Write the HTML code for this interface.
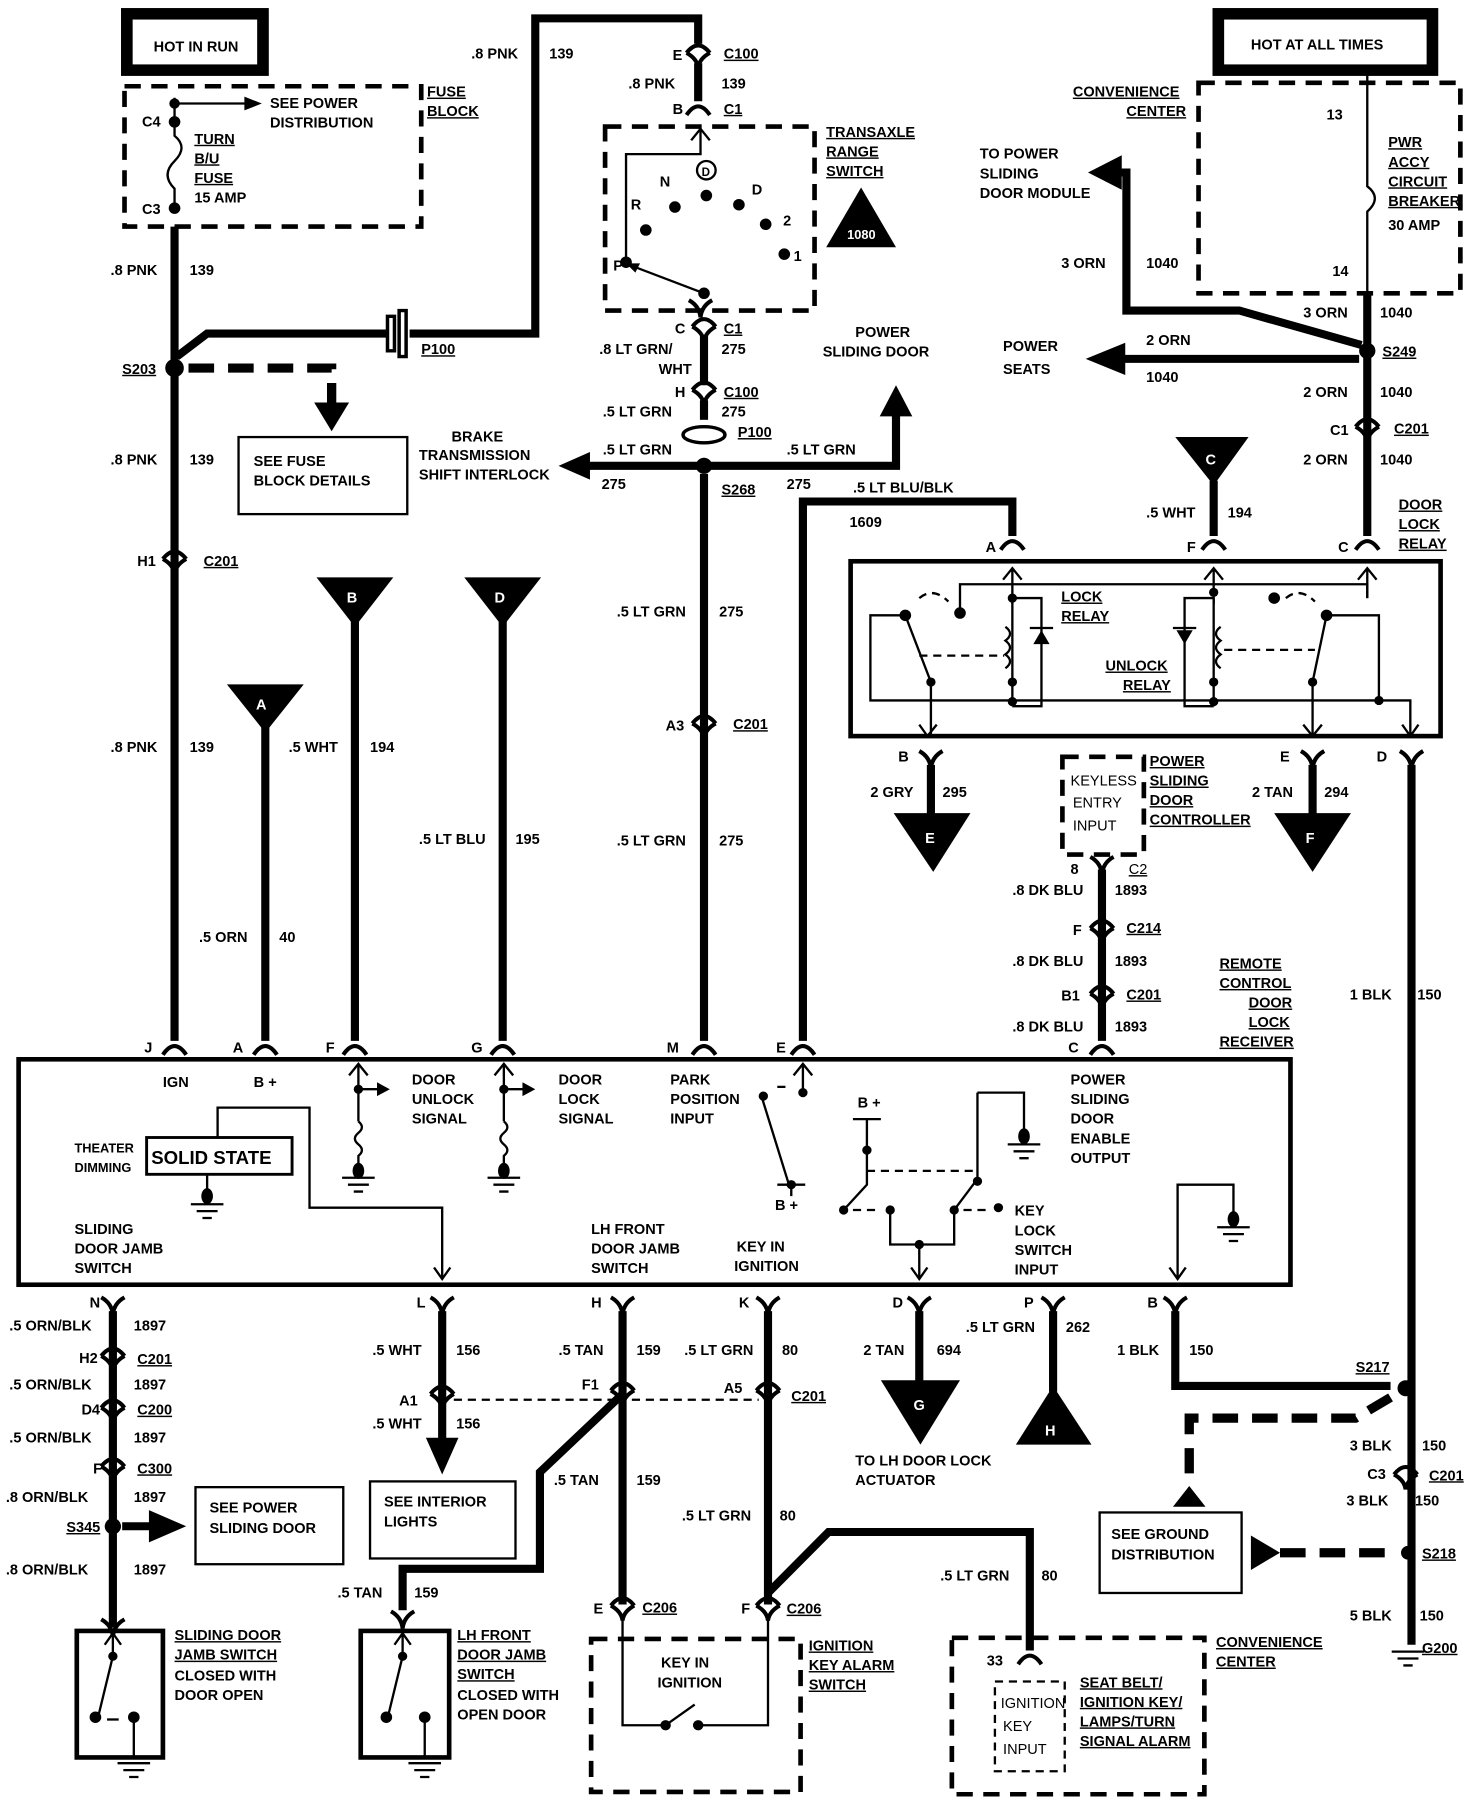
<!DOCTYPE html>
<html><head><meta charset="utf-8"><style>
html,body{margin:0;padding:0;background:#fff}
svg{display:block}
text{font-family:"Liberation Sans",sans-serif;font-weight:bold;font-size:12.5px;fill:#000}
.u{text-decoration:underline}
.w{stroke:#000;stroke-width:7;fill:none}
.n{stroke:#000;stroke-width:2;fill:none}
.d{stroke:#000;stroke-width:4;fill:none;stroke-dasharray:14 9}
.dt{stroke:#000;stroke-width:2;fill:none;stroke-dasharray:7 5}
.dw{stroke:#000;stroke-width:8;fill:none;stroke-dasharray:22 12}
.c{stroke:#000;stroke-width:3.5;fill:none}
</style></head><body>
<svg width="1472" height="1800" viewBox="0 0 1265 1565" preserveAspectRatio="none" xmlns="http://www.w3.org/2000/svg">
<defs>
<g id="ar"><path class="c" d="M-10,5 Q0,-10 10,5"/></g>
<g id="fk"><path class="c" d="M-10,-7 Q-1,-2 0,8 M10,-7 Q1,-2 0,8"/></g>
<g id="ci"><path class="c" d="M-10,-1 Q0,-14 10,-1 M-10,-1 Q-1,4 0,12 M10,-1 Q1,4 0,12"/></g>
<g id="gnd"><path class="n" d="M-14,0 H14 M-9,6 H9 M-4,12 H4" stroke-width="2.5"/></g>
</defs>

<!-- HOT IN RUN -->
<rect x="109" y="12" width="117" height="49" fill="none" stroke="#000" stroke-width="10"/>
<text x="132" y="45">HOT IN RUN</text>
<rect x="107" y="75" width="255" height="122" class="d"/>
<text x="367" y="84" class="u">FUSE</text><text x="367" y="101" class="u">BLOCK</text>
<path class="n" d="M150,85 V105 M150,105 V118 Q162,128 150,140 Q138,152 150,164 V182" stroke-width="2.5"/>
<circle cx="150" cy="90" r="4.5"/><circle cx="150" cy="106" r="5"/><circle cx="150" cy="181" r="5"/>
<path class="n" d="M150,90 H212"/><path d="M210,84 L225,90 L210,96Z"/>
<text x="232" y="94">SEE  POWER</text><text x="232" y="111">DISTRIBUTION</text>
<text x="122" y="110">C4</text><text x="122" y="186">C3</text>
<text x="167" y="125" class="u">TURN</text><text x="167" y="142" class="u">B/U</text><text x="167" y="159" class="u">FUSE</text><text x="167" y="176">15 AMP</text>

<!-- left pink wire -->
<path class="w" d="M150,197 V905"/>
<text x="95" y="239">.8 PNK</text><text x="163" y="239">139</text>
<circle cx="150" cy="320" r="8"/>
<text x="105" y="325" class="u">S203</text>
<path class="w" d="M152,310 L178,290 H333"/>
<path class="w" d="M352,290 H460 V16 H600 V38"/>
<path d="M333,275 h6 v30 h-6z M343,270 h6 v40 h-6z" fill="none" stroke="#000" stroke-width="3"/>
<text x="362" y="308" class="u">P100</text>
<text x="405" y="51">.8 PNK</text><text x="472" y="51">139</text>
<path class="dw" d="M162,320 H285 V350"/><path d="M270,350 L300,350 L285,375Z"/>
<rect x="205" y="380" width="145" height="67" class="n"/>
<text x="218" y="405">SEE FUSE</text><text x="218" y="422">BLOCK DETAILS</text>
<text x="95" y="404">.8 PNK</text><text x="163" y="404">139</text>
<use href="#ci" x="150" y="487"/><text x="118" y="492">H1</text><text x="175" y="492" class="u">C201</text>
<text x="95" y="654">.8 PNK</text><text x="163" y="654">139</text>

<!-- A -->
<path d="M195,595 H261 L228,637Z"/><text x="220" y="617" fill="#fff" style="fill:#fff">A</text>
<path class="w" d="M228,630 V905"/>
<text x="248" y="654">.5 WHT</text><text x="318" y="654">194</text>
<text x="171" y="819">.5 ORN</text><text x="240" y="819">40</text>
<!-- B -->
<path d="M272,502 H338 L305,545Z"/><text x="298" y="524" style="fill:#fff">B</text>
<path class="w" d="M305,540 V905"/>
<!-- D -->
<path d="M399,502 H465 L432,545Z"/><text x="425" y="524" style="fill:#fff">D</text>
<path class="w" d="M432,540 V905"/>
<text x="360" y="734">.5 LT BLU</text><text x="443" y="734">195</text>

<!-- center 605 -->
<use href="#ci" x="600" y="47"/><text x="578" y="52">E</text><text x="622" y="51" class="u">C100</text>
<path class="w" d="M600,55 V88"/>
<text x="540" y="77">.8  PNK</text><text x="620" y="77">139</text>
<use href="#ar" x="600" y="95"/><text x="578" y="99">B</text><text x="622" y="99" class="u">C1</text>
<rect x="520" y="110" width="180" height="160" class="d"/>
<text x="710" y="119" class="u">TRANSAXLE</text><text x="710" y="136" class="u">RANGE</text><text x="710" y="153" class="u">SWITCH</text>
<path d="M740,163 L710,215 H770Z"/><text x="728" y="208" style="fill:#fff;font-size:11px">1080</text>
<path class="n" d="M538,228 V134 H602 V112 M594,122 L602,112 L610,122"/>
<circle cx="538" cy="228" r="5"/><circle cx="555" cy="200" r="5"/><circle cx="580" cy="180" r="5"/><circle cx="607" cy="170" r="5"/><circle cx="635" cy="178" r="5"/><circle cx="658" cy="195" r="5"/><circle cx="674" cy="221" r="5"/>
<circle cx="607" cy="148" r="8" class="n"/><text x="603" y="153" style="font-size:10px">D</text>
<text x="527" y="235">P</text><text x="542" y="182">R</text><text x="567" y="162">N</text><text x="646" y="169">D</text><text x="673" y="196">2</text><text x="682" y="227">1</text>
<path class="n" d="M540,230 L605,255"/><path d="M538,229 l12,0 l-4,8z"/><circle cx="605" cy="255" r="5"/>
<use href="#fk" x="602" y="268"/>
<use href="#ci" x="605" y="285"/><text x="580" y="290">C</text><text x="622" y="290" class="u">C1</text>
<path class="w" d="M605,292 V335"/>
<text x="515" y="308">.8  LT GRN/</text><text x="566" y="325">WHT</text><text x="620" y="308">275</text>
<use href="#ci" x="605" y="340"/><text x="580" y="345">H</text><text x="622" y="345" class="u">C100</text>
<path class="w" d="M605,348 V365"/>
<text x="518" y="362">.5  LT  GRN</text><text x="620" y="362">275</text>
<ellipse cx="605" cy="378" rx="18" ry="7" fill="#fff" stroke="#000" stroke-width="3"/>
<text x="634" y="380" class="u">P100</text>
<circle cx="605" cy="405" r="7"/>
<text x="620" y="430" class="u">S268</text>
<path class="w" d="M600,405 H505"/><path d="M507,393 L480,405 L507,417Z"/>
<text x="518" y="395">.5  LT  GRN</text><text x="517" y="425">275</text>
<text x="388" y="384">BRAKE</text><text x="360" y="400">TRANSMISSION</text><text x="360" y="417">SHIFT  INTERLOCK</text>
<path class="w" d="M610,405 H770 V360"/><path d="M756,362 L770,335 L784,362Z"/>
<text x="676" y="395">.5  LT  GRN</text><text x="676" y="425">275</text>
<text x="735" y="293">POWER</text><text x="707" y="310">SLIDING  DOOR</text>
<path class="w" d="M605,412 V905"/>
<text x="530" y="536">.5 LT GRN</text><text x="618" y="536">275</text>
<use href="#ci" x="605" y="630"/><text x="572" y="635">A3</text><text x="630" y="634" class="u">C201</text>
<text x="530" y="735">.5 LT GRN</text><text x="618" y="735">275</text>

<!-- E wire -->
<path class="w" d="M690,905 V436 H870 V466"/>
<text x="733" y="428">.5 LT BLU/BLK</text><text x="730" y="458">1609</text>

<!-- right top -->
<rect x="1047" y="12" width="184" height="49" fill="none" stroke="#000" stroke-width="10"/>
<text x="1075" y="43">HOT AT ALL TIMES</text>
<rect x="1030" y="72" width="225" height="183" class="d"/>
<text x="922" y="84" class="u">CONVENIENCE</text><text x="968" y="101" class="u">CENTER</text>
<text x="1140" y="104">13</text><text x="1145" y="240">14</text>
<path class="n" d="M1175,65 V162 Q1188,172 1175,184 V262" stroke-width="2.5"/>
<text x="1193" y="128" class="u">PWR</text><text x="1193" y="145" class="u">ACCY</text><text x="1193" y="162" class="u">CIRCUIT</text><text x="1193" y="179" class="u">BREAKER</text><text x="1193" y="200">30  AMP</text>
<path class="w" d="M1175,255 V466"/>
<text x="1120" y="276">3 ORN</text><text x="1186" y="276">1040</text>
<circle cx="1175" cy="305" r="7"/><text x="1188" y="310" class="u">S249</text>
<path class="w" d="M1170,300 L1065,270 H968 V150 H962"/><path d="M964,135 L935,150 L964,165Z"/>
<text x="842" y="138">TO  POWER</text><text x="842" y="155">SLIDING</text><text x="842" y="172">DOOR  MODULE</text>
<text x="912" y="233">3  ORN</text><text x="985" y="233">1040</text>
<path class="w" d="M1168,312 H965"/><path d="M967,298 L933,312 L967,326Z"/>
<text x="985" y="300">2 ORN</text><text x="985" y="332">1040</text>
<text x="862" y="305">POWER</text><text x="862" y="325">SEATS</text>
<text x="1120" y="345">2 ORN</text><text x="1186" y="345">1040</text>
<use href="#ci" x="1175" y="372"/><text x="1143" y="378">C1</text><text x="1198" y="377" class="u">C201</text>
<text x="1120" y="404">2 ORN</text><text x="1186" y="404">1040</text>
<text x="1202" y="443" class="u">DOOR</text><text x="1202" y="460" class="u">LOCK</text><text x="1202" y="477" class="u">RELAY</text>
<path d="M1010,380 H1073 L1043,422Z"/><text x="1036" y="404" style="fill:#fff">C</text>
<path class="w" d="M1043,418 V466"/>
<text x="985" y="450">.5 WHT</text><text x="1055" y="450">194</text>
<use href="#ar" x="870" y="473"/><text x="847" y="480">A</text>
<use href="#ar" x="1043" y="473"/><text x="1020" y="480">F</text>
<use href="#ar" x="1175" y="473"/><text x="1150" y="480">C</text>

<!-- relay box -->
<rect x="731" y="488" width="507" height="152" fill="none" stroke="#000" stroke-width="4"/>
<path class="n" d="M870,525 V494 M862,504 L870,494 L878,504 M1043,525 V494 M1035,504 L1043,494 L1051,504 M1175,520 V494 M1167,504 L1175,494 L1183,504"/>
<path class="n" d="M825,530 V508 H1175 V520"/>
<path class="n" d="M870,520 V614 M870,520 H895 V614 H870 M1043,520 V614 M1043,520 H1018 V614 H1043"/>
<path d="M888,560 h14 l-7,-12z M1011,548 h14 l-7,12z"/>
<path class="n" d="M885,546 H905 M1008,546 H1028"/>
<path class="n" d="M864,545 q8,6 0,12 q8,6 0,12 q8,6 0,12 M1049,545 q-8,6 0,12 q-8,6 0,12 q-8,6 0,12"/>
<circle cx="870" cy="520" r="4"/><circle cx="870" cy="593" r="4"/><circle cx="870" cy="610" r="4"/>
<circle cx="1043" cy="515" r="4"/><circle cx="1043" cy="593" r="4"/><circle cx="1043" cy="610" r="4"/>
<circle cx="825" cy="533" r="5"/><circle cx="1095" cy="520" r="5"/>
<path class="n" d="M775,535 H748 V609 H1212 V640 M1205,630 L1212,640 L1219,630"/>
<path class="dt" d="M790,520 q12,-10 25,3 M1105,520 q12,-10 25,3"/>
<circle cx="778" cy="535" r="5"/><circle cx="800" cy="593" r="4"/><circle cx="1128" cy="593" r="4"/><circle cx="1140" cy="535" r="5"/>
<path class="n" d="M778,535 L800,593 V640 M790,630 L797,640 L805,630 M1140,535 L1128,593 V640 M1120,630 L1128,640 L1136,630 M1140,535 H1185 V609"/>
<circle cx="1185" cy="609" r="4"/>
<path class="dt" d="M790,570 H863 M1052,565 H1130"/>
<text x="912" y="523" class="u">LOCK</text><text x="912" y="540" class="u">RELAY</text>
<text x="950" y="583" class="u">UNLOCK</text><text x="965" y="600" class="u">RELAY</text>

<use href="#fk" x="800" y="660"/><text x="772" y="662">B</text>
<path class="w" d="M800,665 V712"/><path d="M768,707 H834 L802,758Z"/><text x="795" y="733" style="fill:#fff">E</text>
<text x="748" y="693">2 GRY</text><text x="810" y="693">295</text>
<use href="#fk" x="1128" y="660"/><text x="1100" y="662">E</text>
<path class="w" d="M1128,665 V712"/><path d="M1095,707 H1161 L1128,758Z"/><text x="1122" y="733" style="fill:#fff">F</text>
<text x="1076" y="693">2 TAN</text><text x="1138" y="693">294</text>
<use href="#fk" x="1213" y="660"/><text x="1183" y="662">D</text>
<path class="w" d="M1213,665 V1430"/>
<text x="1160" y="869">1 BLK</text><text x="1218" y="869">150</text>

<rect x="913" y="658" width="70" height="85" class="d"/>
<text x="920" y="683" style="font-weight:normal">KEYLESS</text><text x="922" y="702" style="font-weight:normal">ENTRY</text><text x="922" y="722" style="font-weight:normal">INPUT</text>
<text x="988" y="666" class="u">POWER</text><text x="988" y="683" class="u">SLIDING</text><text x="988" y="700" class="u">DOOR</text><text x="988" y="717" class="u">CONTROLLER</text>
<use href="#fk" x="947" y="752"/><text x="920" y="760">8</text><text x="970" y="760" class="u" style="font-weight:normal">C2</text>
<path class="w" d="M947,756 V905"/>
<text x="870" y="778">.8 DK BLU</text><text x="958" y="778">1893</text>
<use href="#ci" x="947" y="808"/><text x="922" y="813">F</text><text x="968" y="811" class="u">C214</text>
<text x="870" y="840">.8 DK BLU</text><text x="958" y="840">1893</text>
<use href="#ci" x="947" y="865"/><text x="912" y="870">B1</text><text x="968" y="869" class="u">C201</text>
<text x="870" y="897">.8 DK BLU</text><text x="958" y="897">1893</text>
<text x="1048" y="842" class="u">REMOTE</text><text x="1048" y="859" class="u">CONTROL</text><text x="1073" y="876" class="u">DOOR</text><text x="1073" y="893" class="u">LOCK</text><text x="1048" y="910" class="u">RECEIVER</text>

<!-- module top connectors -->
<use href="#ar" x="150" y="912"/><text x="124" y="915">J</text>
<use href="#ar" x="228" y="912"/><text x="200" y="915">A</text>
<use href="#ar" x="305" y="912"/><text x="280" y="915">F</text>
<use href="#ar" x="432" y="912"/><text x="405" y="915">G</text>
<use href="#ar" x="605" y="912"/><text x="573" y="915">M</text>
<use href="#ar" x="690" y="912"/><text x="667" y="915">E</text>
<use href="#ar" x="947" y="912"/><text x="918" y="915">C</text>

<!-- module -->
<rect x="16" y="921" width="1093" height="196" fill="none" stroke="#000" stroke-width="4"/>
<text x="140" y="945">IGN</text><text x="218" y="945">B +</text>
<path class="n" d="M308,975 V925 M300,935 L308,925 L316,935 M308,975 q6,5 0,10 q-6,5 0,10 q6,5 0,10 V1022 M433,975 V925 M425,935 L433,925 L441,935 M433,975 q6,5 0,10 q-6,5 0,10 q6,5 0,10 V1022"/>
<circle cx="308" cy="947" r="4"/><circle cx="433" cy="947" r="4"/>
<path class="n" d="M308,947 H325 M433,947 H450" stroke-width="3"/><path d="M324,941 L335,947 L324,953Z M449,941 L460,947 L449,953Z"/>
<ellipse cx="308" cy="1018" rx="5" ry="7"/><ellipse cx="433" cy="1018" rx="5" ry="7"/>
<use href="#gnd" x="308" y="1024"/><use href="#gnd" x="433" y="1024"/>
<text x="354" y="943">DOOR</text><text x="354" y="960">UNLOCK</text><text x="354" y="977">SIGNAL</text>
<text x="480" y="943">DOOR</text><text x="480" y="960">LOCK</text><text x="480" y="977">SIGNAL</text>
<text x="576" y="943">PARK</text><text x="576" y="960">POSITION</text><text x="576" y="977">INPUT</text>
<rect x="126" y="989" width="125" height="32" fill="none" stroke="#000" stroke-width="2.5"/>
<text x="130" y="1012" style="font-size:16px">SOLID STATE</text>
<text x="64" y="1002" style="font-size:11px">THEATER</text><text x="64" y="1019" style="font-size:11px">DIMMING</text>
<path class="n" d="M187,989 V963 H266 V1050 H380 V1112 M373,1102 L380,1112 L387,1102 M178,1021 V1040"/>
<ellipse cx="178" cy="1040" rx="5" ry="7"/><use href="#gnd" x="178" y="1047"/>
<text x="64" y="1073">SLIDING</text><text x="64" y="1090">DOOR JAMB</text><text x="64" y="1107">SWITCH</text>
<text x="508" y="1073">LH FRONT</text><text x="508" y="1090">DOOR JAMB</text><text x="508" y="1107">SWITCH</text>
<text x="633" y="1088">KEY IN</text><text x="631" y="1105">IGNITION</text>
<path class="n" d="M690,950 V925 M682,935 L690,925 L698,935 M655,955 L678,1030"/>
<circle cx="690" cy="950" r="4"/><circle cx="656" cy="953" r="4"/><circle cx="680" cy="1030" r="4"/>
<path class="n" d="M668,945 H675 M668,1030 H692 M680,1030 V1040"/>
<text x="666" y="1052">B +</text>
<text x="737" y="963">B +</text>
<path class="n" d="M733,973 H757 M745,973 V1030 L725,1052 M840,950 H880 V990 M840,950 V1025 L820,1052"/>
<circle cx="745" cy="1000" r="4"/><circle cx="840" cy="1027" r="4"/><circle cx="725" cy="1052" r="4"/><circle cx="765" cy="1052" r="4"/><circle cx="820" cy="1052" r="4"/><circle cx="858" cy="1050" r="4"/>
<ellipse cx="880" cy="988" rx="5" ry="7"/><use href="#gnd" x="880" y="995"/>
<path class="dt" d="M745,1018 H836 M733,1052 H755 M828,1052 H848"/>
<path class="n" d="M765,1052 V1082 H820 V1052 M790,1082 V1112 M783,1102 L790,1112 L797,1102"/>
<circle cx="790" cy="1082" r="4"/>
<text x="920" y="943">POWER</text><text x="920" y="960">SLIDING</text><text x="920" y="977">DOOR</text><text x="920" y="994">ENABLE</text><text x="920" y="1011">OUTPUT</text>
<text x="872" y="1057">KEY</text><text x="872" y="1074">LOCK</text><text x="872" y="1091">SWITCH</text><text x="872" y="1108">INPUT</text>
<path class="n" d="M1012,1112 V1030 H1060 V1058 M1005,1102 L1012,1112 L1019,1102"/>
<ellipse cx="1060" cy="1060" rx="5" ry="7"/><use href="#gnd" x="1060" y="1067"/>

<!-- bottom connectors -->
<use href="#fk" x="97" y="1135"/><text x="77" y="1137">N</text>
<use href="#fk" x="380" y="1135"/><text x="358" y="1137">L</text>
<use href="#fk" x="535" y="1135"/><text x="508" y="1137">H</text>
<use href="#fk" x="660" y="1135"/><text x="635" y="1137">K</text>
<use href="#fk" x="790" y="1135"/><text x="767" y="1137">D</text>
<use href="#fk" x="905" y="1135"/><text x="880" y="1137">P</text>
<use href="#fk" x="1010" y="1135"/><text x="986" y="1137">B</text>

<!-- N -->
<path class="w" d="M97,1140 V1415"/>
<text x="8" y="1157">.5  ORN/BLK</text><text x="115" y="1157">1897</text>
<use href="#ci" x="97" y="1180"/><text x="68" y="1185">H2</text><text x="118" y="1186" class="u">C201</text>
<text x="8" y="1208">.5  ORN/BLK</text><text x="115" y="1208">1897</text>
<use href="#ci" x="97" y="1225"/><text x="70" y="1230">D4</text><text x="118" y="1230" class="u">C200</text>
<text x="8" y="1254">.5  ORN/BLK</text><text x="115" y="1254">1897</text>
<use href="#ci" x="97" y="1276"/><text x="80" y="1281">F</text><text x="118" y="1281" class="u">C300</text>
<text x="5" y="1306">.8  ORN/BLK</text><text x="115" y="1306">1897</text>
<circle cx="97" cy="1327" r="7"/><text x="57" y="1332" class="u">S345</text>
<path class="w" d="M105,1327 H130"/><path d="M128,1313 L160,1327 L128,1341Z"/>
<rect x="168" y="1293" width="127" height="67" class="n"/>
<text x="180" y="1315">SEE POWER</text><text x="180" y="1333">SLIDING DOOR</text>
<text x="5" y="1369">.8  ORN/BLK</text><text x="115" y="1369">1897</text>
<use href="#fk" x="97" y="1415"/>
<rect x="66" y="1418" width="74" height="110" fill="none" stroke="#000" stroke-width="4"/>
<path class="n" d="M97,1420 V1440 M90,1430 L97,1420 L104,1430 M97,1440 L85,1490 M115,1490 V1528"/>
<circle cx="97" cy="1440" r="4"/><circle cx="82" cy="1493" r="5"/><circle cx="115" cy="1493" r="5"/>
<path class="n" d="M92,1495 H102"/><use href="#gnd" x="115" y="1533"/>
<text x="150" y="1426" class="u">SLIDING DOOR</text><text x="150" y="1443" class="u">JAMB SWITCH</text><text x="150" y="1461">CLOSED WITH</text><text x="150" y="1478">DOOR OPEN</text>

<!-- L -->
<path class="w" d="M380,1140 V1255"/><path d="M366,1250 L394,1250 L380,1282Z"/>
<text x="320" y="1178">.5 WHT</text><text x="392" y="1178">156</text>
<use href="#ci" x="380" y="1213"/><text x="343" y="1222">A1</text>
<text x="320" y="1242">.5 WHT</text><text x="392" y="1242">156</text>
<rect x="318" y="1288" width="125" height="67" class="n"/>
<text x="330" y="1310">SEE INTERIOR</text><text x="330" y="1327">LIGHTS</text>
<path class="dt" d="M390,1217 H528 M543,1217 H652"/>

<!-- H -->
<path class="w" d="M535,1140 V1395"/>
<text x="480" y="1178">.5 TAN</text><text x="547" y="1178">159</text>
<use href="#ci" x="535" y="1210"/><text x="500" y="1208">F1</text>
<path class="w" d="M535,1212 L464,1280 V1364 H346 V1400"/>
<text x="476" y="1291">.5  TAN</text><text x="547" y="1291">159</text>
<text x="290" y="1389">.5 TAN</text><text x="356" y="1389">159</text>
<use href="#fk" x="346" y="1408"/>
<rect x="310" y="1418" width="76" height="110" fill="none" stroke="#000" stroke-width="4"/>
<path class="n" d="M346,1420 V1440 M339,1430 L346,1420 L353,1430 M346,1440 L334,1490 M365,1490 V1528"/>
<circle cx="346" cy="1440" r="4"/><circle cx="332" cy="1493" r="5"/><circle cx="365" cy="1493" r="5"/>
<use href="#gnd" x="365" y="1533"/>
<text x="393" y="1426" class="u">LH  FRONT</text><text x="393" y="1443" class="u">DOOR  JAMB</text><text x="393" y="1460" class="u">SWITCH</text><text x="393" y="1478">CLOSED  WITH</text><text x="393" y="1495">OPEN  DOOR</text>
<use href="#ci" x="535" y="1397"/><text x="510" y="1403">E</text><text x="552" y="1402" class="u">C206</text>

<!-- K -->
<path class="w" d="M660,1140 V1395"/>
<text x="588" y="1178">.5 LT GRN</text><text x="672" y="1178">80</text>
<use href="#ci" x="660" y="1210"/><text x="622" y="1211">A5</text><text x="680" y="1218" class="u">C201</text>
<text x="586" y="1322">.5 LT GRN</text><text x="670" y="1322">80</text>
<path class="w" d="M660,1385 L712,1332 H885 V1435"/>
<text x="808" y="1374">.5 LT GRN</text><text x="895" y="1374">80</text>
<use href="#ci" x="660" y="1397"/><text x="637" y="1403">F</text><text x="676" y="1403" class="u">C206</text>
<path class="n" d="M535,1405 V1500 H572 M600,1500 H660 V1405"/>
<circle cx="572" cy="1500" r="4.5"/><circle cx="600" cy="1500" r="4.5"/><path class="n" d="M572,1500 L597,1482"/>
<rect x="508" y="1425" width="180" height="133" class="d"/>
<text x="568" y="1450">KEY IN</text><text x="565" y="1467">IGNITION</text>
<text x="695" y="1435" class="u">IGNITION</text><text x="695" y="1452" class="u">KEY  ALARM</text><text x="695" y="1469" class="u">SWITCH</text>

<!-- D -->
<path class="w" d="M790,1140 V1205"/><path d="M757,1200 H825 L791,1256Z"/><text x="785" y="1226" style="fill:#fff">G</text>
<text x="742" y="1178">2 TAN</text><text x="805" y="1178">694</text>
<text x="735" y="1274">TO LH DOOR LOCK</text><text x="735" y="1291">ACTUATOR</text>
<!-- P -->
<path class="w" d="M905,1140 V1210"/><path d="M873,1256 H938 L905,1205Z"/><text x="898" y="1248" style="fill:#fff">H</text>
<text x="830" y="1158">.5 LT GRN</text><text x="916" y="1158">262</text>
<!-- B -->
<path class="w" d="M1010,1140 V1205 H1195"/>
<text x="960" y="1178">1 BLK</text><text x="1022" y="1178">150</text>
<circle cx="1208" cy="1207" r="7"/><text x="1165" y="1193" class="u">S217</text>
<path class="dw" d="M1195,1215 L1165,1233 H1022 V1290"/><path d="M1008,1310 L1022,1292 L1036,1310Z"/>
<rect x="945" y="1315" width="122" height="70" class="n"/>
<text x="955" y="1338">SEE GROUND</text><text x="955" y="1356">DISTRIBUTION</text>
<path d="M1075,1335 L1100,1350 L1075,1365Z"/><path class="dw" d="M1100,1350 H1200"/>
<text x="1160" y="1261">3 BLK</text><text x="1222" y="1261">150</text>
<use href="#ci" x="1208" y="1283"/><text x="1175" y="1286">C3</text><text x="1228" y="1287" class="u">C201</text>
<text x="1157" y="1309">3 BLK</text><text x="1216" y="1309">150</text>
<circle cx="1210" cy="1350" r="6"/><text x="1222" y="1355" class="u">S218</text>
<text x="1160" y="1409">5 BLK</text><text x="1220" y="1409">150</text>
<use href="#gnd" x="1210" y="1436"/><text x="1222" y="1437" class="u">G200</text>

<!-- convenience center bottom -->
<use href="#ar" x="885" y="1442"/><text x="848" y="1448">33</text>
<rect x="818" y="1424" width="217" height="136" class="d"/>
<rect x="855" y="1462" width="60" height="78" class="dt"/>
<text x="860" y="1485" style="font-weight:normal">IGNITION</text><text x="862" y="1505" style="font-weight:normal">KEY</text><text x="862" y="1525" style="font-weight:normal">INPUT</text>
<text x="928" y="1467" class="u">SEAT BELT/</text><text x="928" y="1484" class="u">IGNITION KEY/</text><text x="928" y="1501" class="u">LAMPS/TURN</text><text x="928" y="1518" class="u">SIGNAL ALARM</text>
<text x="1045" y="1432" class="u">CONVENIENCE</text><text x="1045" y="1449" class="u">CENTER</text>
</svg>
</body></html>
